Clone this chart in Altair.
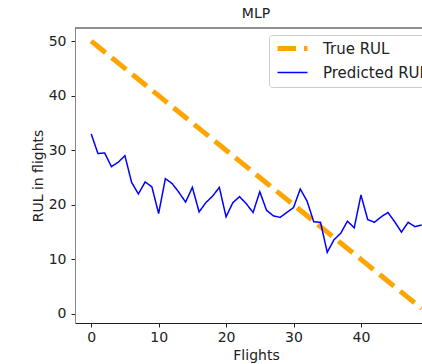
import altair as alt
import pandas as pd

# Flight index and remaining-useful-life values for each series
flights = list(range(50))
true_rul = [50, 49, 48, 47, 46, 45, 44, 43, 42, 41,
            40, 39, 38, 37, 36, 35, 34, 33, 32, 31,
            30, 29, 28, 27, 26, 25, 24, 23, 22, 21,
            20, 19, 18, 17, 16, 15, 14, 13, 12, 11,
            10, 9, 8, 7, 6, 5, 4, 3, 2, 1]
predicted_rul = [33.0, 29.4, 29.5, 27.0, 27.8, 29.0, 24.1, 22.0, 24.2, 23.3,
                 18.4, 24.8, 23.9, 22.3, 20.5, 23.2, 18.7, 20.4, 21.6, 23.2,
                 17.8, 20.4, 21.5, 20.2, 18.6, 22.4, 19.0, 18.0, 17.7, 18.6,
                 19.5, 22.9, 20.7, 16.9, 16.8, 11.3, 13.6, 14.8, 17.0, 15.8,
                 21.8, 17.3, 16.8, 17.8, 18.6, 16.9, 15.0, 16.8, 16.0, 16.3]
series_names = ["True RUL", "Predicted RUL"]
x_ticks = [0, 10, 20, 30, 40, 50]
y_ticks = [0, 10, 20, 30, 40, 50]

df = pd.concat([
    pd.DataFrame({"flight": flights, "rul": true_rul, "series": series_names[0]}),
    pd.DataFrame({"flight": flights, "rul": predicted_rul, "series": series_names[1]}),
])

FONT = "DejaVu Sans"
W, H = 347, 295

x_scale = alt.Scale(domain=[-2.4, 49.05], nice=False, zero=False)
y_scale = alt.Scale(domain=[-1.65, 52.4], nice=False, zero=False)

# legend swatch: a 30px horizontal stroke (path units are scaled by sqrt(size)/2)
legend = alt.Legend(
    title=None, orient="none", legendX=194, legendY=7,
    symbolType="M-1,0H5", symbolSize=100,
)
color = alt.Color("series:N", scale=alt.Scale(domain=series_names, range=["orange", "blue"]), legend=legend)
dash = alt.StrokeDash("series:N", scale=alt.Scale(domain=series_names, range=[[18.5, 8], [1, 0]]), legend=legend)
width = alt.StrokeWidth("series:N", scale=alt.Scale(domain=series_names, range=[5, 1.5]), legend=legend)

x_enc = alt.X("flight:Q", scale=x_scale, axis=alt.Axis(
    title="Flights", values=x_ticks, titleX=181, titleY=36,
    titleBaseline="alphabetic", domainColor="#222", labelPadding=3,
))
y_enc = alt.Y("rul:Q", scale=y_scale, axis=alt.Axis(
    title="RUL in flights", values=y_ticks, titleX=-33, titleY=147.5,
    titleBaseline="alphabetic", titleAngle=270, domainColor="#888", labelPadding=5,
))

base = alt.Chart(df).encode(x=x_enc, y=y_enc, color=color, strokeDash=dash, strokeWidth=width)

true_line = base.transform_filter(alt.datum.series == series_names[0]).mark_line(clip=True)
pred_line = base.transform_filter(alt.datum.series == series_names[1]).mark_line(clip=True)

# upper frame edge of the axes box
top_spine = alt.Chart(pd.DataFrame({"k": [0]})).mark_rule(color="#222", strokeWidth=1).encode(
    x=alt.value(0), x2=alt.value(W), y=alt.value(0)
)

chart = (
    alt.layer(true_line, pred_line, top_spine)
    .properties(
        width=W, height=H,
        padding={"left": 75, "top": 28, "right": 0, "bottom": 41},
        autosize=alt.AutoSizeParams(type="none"),
        title=alt.TitleParams("MLP", font=FONT, fontSize=14, fontWeight="normal",
                              color="#222", offset=8.5, dx=7.5, dy=13,
                              baseline="alphabetic", frame="group"),
    )
    .configure_view(stroke=None)
    .configure_axis(
        grid=False, labelFont=FONT, labelFontSize=14, labelColor="#222",
        titleFont=FONT, titleFontSize=14, titleFontWeight="normal", titleColor="#222",
        tickSize=4, tickColor="#222", labelFlush=False, labelOverlap=False,
    )
    .configure_legend(
        labelFont=FONT, labelFontSize=15, labelColor="#222", fillColor="white",
        strokeColor="#cccccc", cornerRadius=3, padding=6, labelOffset=33,
        rowPadding=6,
    )
)

chart.save("out.html", embed_options={"renderer": "svg", "actions": False})
